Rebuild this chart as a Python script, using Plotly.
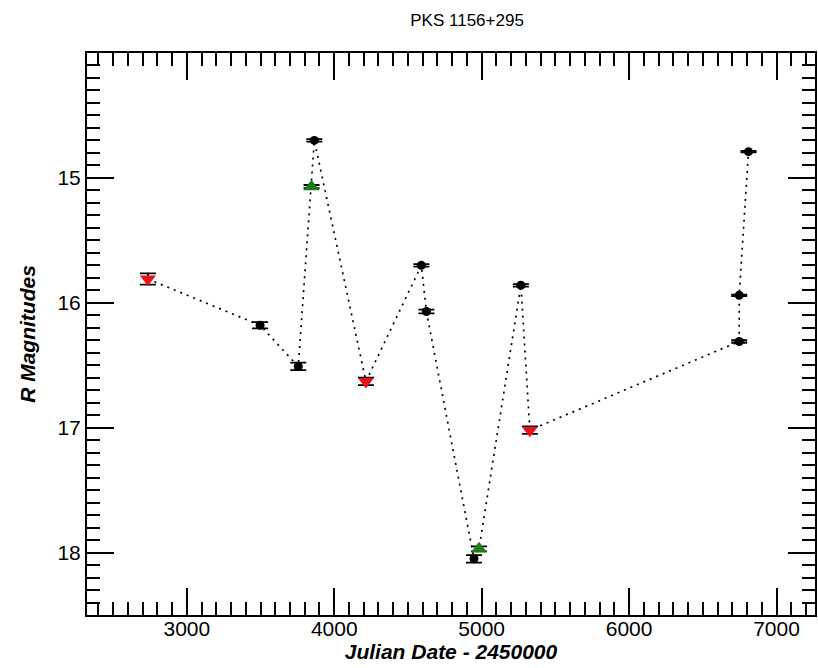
import plotly.graph_objects as go

# Observations (time-ordered)
jd = [2736, 3497, 3756, 3846, 3865, 4215, 4591, 4625, 4948, 4982, 5266, 5327, 6747, 6747, 6810]
mag = [15.81, 16.18, 16.51, 15.07, 14.70, 16.63, 15.70, 16.07, 18.05, 17.97, 15.86, 17.02, 16.31, 15.94, 14.79]
err = [0.045, 0.025, 0.03, 0.013, 0.01, 0.03, 0.01, 0.015, 0.03, 0.02, 0.01, 0.03, 0.01, 0.006, 0.006]
kind = ["red", "black", "black", "green", "black", "red", "black", "black",
        "black", "green", "black", "red", "black", "black", "black"]

x_ticks = [3000, 4000, 5000, 6000, 7000]
y_ticks = [15, 16, 17, 18]

styles = {
    "black": dict(symbol="circle", size=9, color="black"),
    "red": dict(symbol="triangle-down", size=14, color="#e5141b"),
    "green": dict(symbol="triangle-up", size=14, color="#1c7d1c"),
}

fig = go.Figure()
fig.add_trace(go.Scatter(
    x=jd, y=mag, mode="lines",
    line=dict(color="black", width=1.7, dash="2px,5px"),
    showlegend=False, hoverinfo="skip"))

for k in ["black", "red", "green"]:
    idx = [i for i, v in enumerate(kind) if v == k]
    fig.add_trace(go.Scatter(
        x=[jd[i] for i in idx], y=[mag[i] for i in idx], mode="markers",
        marker=dict(symbol=styles[k]["symbol"], size=styles[k]["size"],
                    color=styles[k]["color"], line=dict(width=0)),
        error_y=dict(type="data", array=[err[i] for i in idx], color="black",
                     thickness=1.8, width=8),
        showlegend=False))

axis_font = dict(family="Liberation Sans, Arial, sans-serif", size=21, color="black")
fig.update_layout(
    width=818, height=668,
    margin=dict(l=87, r=1, t=53, b=53),
    paper_bgcolor="white", plot_bgcolor="white",
    title=dict(text="PKS 1156+295", x=0.571, xanchor="center", y=0.97, yanchor="middle",
               font=dict(family="Liberation Sans, Arial, sans-serif", size=17, color="black")),
    xaxis=dict(
        range=[2323, 7261], tickvals=x_ticks, ticktext=[str(v) for v in x_ticks],
        ticks="inside", ticklen=27, tickwidth=1.5, tickcolor="black",
        minor=dict(dtick=100, tick0=0, ticks="inside", ticklen=13, tickwidth=1.5, tickcolor="black"),
        showline=True, linecolor="black", linewidth=2, mirror="allticks",
        showgrid=False, zeroline=False, tickfont=axis_font, ticklabelstandoff=-6,
        title=dict(text="<b><i>Julian Date - 2450000</i></b>", font=axis_font, standoff=0),
    ),
    yaxis=dict(
        range=[18.5, 14.0], tickvals=y_ticks, ticktext=[str(v) for v in y_ticks],
        ticks="inside", ticklen=27, tickwidth=1.5, tickcolor="black",
        minor=dict(dtick=0.1, tick0=0, ticks="inside", ticklen=13, tickwidth=1.5, tickcolor="black"),
        showline=True, linecolor="black", linewidth=2, mirror="allticks",
        showgrid=False, zeroline=False, tickfont=axis_font,
        title=dict(text="<b><i>R Magnitudes</i></b>", font=axis_font, standoff=16),
    ),
)

fig.write_html("out.html")
